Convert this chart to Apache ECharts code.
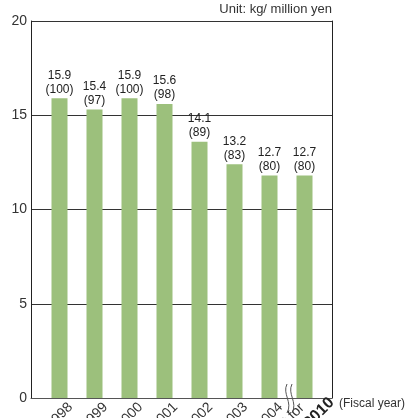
<!DOCTYPE html>
<html><head><meta charset="utf-8">
<script src="https://cdn.jsdelivr.net/npm/echarts@6/dist/echarts.min.js"></script>
<style>html,body{margin:0;padding:0;background:#fff}#c{width:405px;height:418px}</style>
</head><body><div id="c"></div>
<script>
const categories = ['1998', '1999', '2000', '2001', '2002', '2003', '2004', 'Target for\n2010'];
const barHeights = [15.9, 15.3, 15.9, 15.6, 13.6, 12.4, 11.8, 11.8];
const labelValues = ['15.9', '15.4', '15.9', '15.6', '14.1', '13.2', '12.7', '12.7'];
const indexValues = [100, 97, 100, 98, 89, 83, 80, 80];
const yTicks = [0, 5, 10, 15, 20];

const chart = echarts.init(document.getElementById('c'), null, {renderer: 'canvas'});
const FONT = 'Liberation Sans, Arial, sans-serif';
const labelCats = categories.map(function (c) {
  return c.indexOf('\n') >= 0 ? {value: c, textStyle: {align: 'center'}} : c;
});
chart.setOption({
  animation: false,
  backgroundColor: '#fff',
  grid: [
    {left: 31, right: 73, top: 21, bottom: 20, containLabel: false, outerBoundsMode: 'none'},
    {left: 42, right: 83, top: 21, bottom: 20, containLabel: false, outerBoundsMode: 'none'},
    {left: 53, right: 72, top: 21, bottom: 20, containLabel: false, outerBoundsMode: 'none'}
  ],
  xAxis: [
    {gridIndex: 0, type: 'value', min: 0, max: 1, axisLine: {show: true, lineStyle: {color: '#555', width: 1}},
     axisTick: {show: false}, axisLabel: {show: false}, splitLine: {show: false}},
    {gridIndex: 1, type: 'category', data: categories, axisLine: {show: false}, axisTick: {show: false},
     axisLabel: {show: false}},
    {gridIndex: 2, type: 'category', data: labelCats, axisLine: {show: false}, axisTick: {show: false},
     axisLabel: {rotate: 45, fontSize: 14, color: '#333', fontFamily: FONT, margin: 7, interval: 0,
       formatter: function (v) {
         if (v.indexOf('\n') < 0) return v;
         const parts = v.split('\n');
         return '{a|' + parts[0] + '}\n{b|' + parts[1] + '}';
       },
       rich: {
         a: {fontSize: 14, fontFamily: FONT, color: '#333', lineHeight: 16, padding: [0, 79, 0, 0]},
         b: {fontWeight: 'bold', fontSize: 16, fontFamily: FONT, color: '#222', lineHeight: 18, padding: [0, 6, 0, 0]}
       }}}
  ],
  yAxis: [
    {gridIndex: 0, type: 'value', min: yTicks[0], max: yTicks[yTicks.length - 1], interval: 5,
     axisLine: {show: true, lineStyle: {color: '#222', width: 1}}, axisTick: {show: false},
     axisLabel: {fontSize: 14, color: '#333', fontFamily: FONT, margin: 4},
     splitLine: {show: true, lineStyle: {color: '#333', width: 1}}},
    {gridIndex: 0, type: 'value', min: 0, max: 20, position: 'right', axisLine: {show: true, lineStyle: {color: '#222'}},
     axisTick: {show: false}, axisLabel: {show: false}, splitLine: {show: false}},
    {gridIndex: 1, type: 'value', min: 0, max: 20, show: false},
    {gridIndex: 2, type: 'value', min: 0, max: 20, show: false}
  ],
  series: [{
    type: 'bar', xAxisIndex: 1, yAxisIndex: 2, data: barHeights, barWidth: 16,
    itemStyle: {color: '#9cc07c'},
    label: {show: true, position: 'top', distance: 2, fontSize: 12, lineHeight: 14, color: '#222', fontFamily: FONT,
      formatter: function (p) { return labelValues[p.dataIndex] + '\n(' + indexValues[p.dataIndex] + ')'; }}
  }],
  graphic: [
    {type: 'text', right: 73, top: 3, style: {text: 'Unit: kg/ million yen', fill: '#333', font: '13px ' + FONT}},
    {type: 'text', left: 339, top: 398, style: {text: '(Fiscal year)', fill: '#333', font: '12px ' + FONT}},
    {type: 'bezierCurve', shape: {x1: 287, y1: 384, cpx1: 282, cpy1: 394, cpx2: 293, cpy2: 402, x2: 287, y2: 413},
     style: {stroke: '#555', lineWidth: 1, fill: null}},
    {type: 'bezierCurve', shape: {x1: 292, y1: 384, cpx1: 287, cpy1: 394, cpx2: 298, cpy2: 402, x2: 292, y2: 413},
     style: {stroke: '#555', lineWidth: 1, fill: null}}
  ]
});
</script></body></html>
